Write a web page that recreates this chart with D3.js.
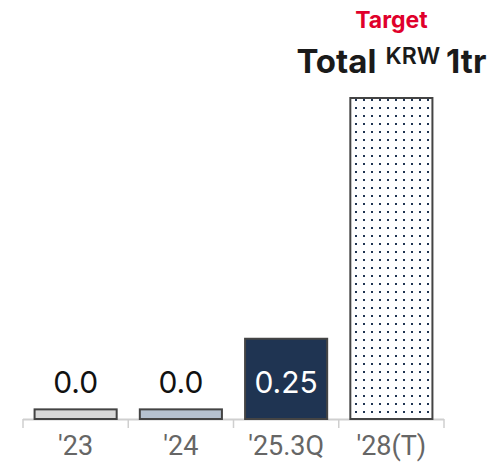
<!DOCTYPE html>
<html lang="en">
<head>
<meta charset="UTF-8">
<title>Target Total KRW 1tr</title>
<script src="https://d3js.org/d3.v7.min.js"></script>
<style>
  body { margin: 0; background: #fff; }
  svg text { font-family: Inter, 'Noto Sans', sans-serif; }
</style>
</head>
<body>
<script>
// data
const categories = ["'23", "'24", "'25.3Q", "'28(T)"];
const values = [0.03, 0.03, 0.25, 1.0];
const labels = ["0.0", "0.0", "0.25", ""];
const fills = ["#d9d9d9", "#b5c1cf", "#1f3452", "url(#dots)"];

const W = 492, H = 462;
const svg = d3.select("body").append("svg")
    .attr("width", W)
    .attr("height", H);

// dotted pattern for target bar
const pat = svg.append("defs").append("pattern")
    .attr("id", "dots")
    .attr("patternUnits", "userSpaceOnUse")
    .attr("width", 8)
    .attr("height", 8);
pat.append("rect").attr("width", 8).attr("height", 8).attr("fill", "#fff");
pat.append("rect").attr("x", 3).attr("y", 3).attr("width", 2).attr("height", 2).attr("fill", "#1f3452");

const x = d3.scaleBand()
    .domain(categories)
    .range([23, 444])
    .paddingInner(0.22)
    .paddingOuter(0.11);

const y = d3.scaleLinear()
    .domain([0, 1])
    .range([419, 98]);

// axis line + tick marks at band boundaries
const edges = d3.range(categories.length + 1).map(i => 23 + i * (421 / categories.length));
svg.append("line")
    .attr("x1", 23).attr("x2", 444)
    .attr("y1", 419.5).attr("y2", 419.5)
    .attr("stroke", "#cfcfcf").attr("stroke-width", 2);
svg.selectAll(".tick-mark")
    .data(edges)
    .enter().append("line")
    .attr("x1", d => d).attr("x2", d => d)
    .attr("y1", 419).attr("y2", 428)
    .attr("stroke", "#cfcfcf").attr("stroke-width", 1.5);

// bars
svg.selectAll(".bar")
    .data(values)
    .enter().append("rect")
    .attr("x", (d, i) => x(categories[i]))
    .attr("y", d => y(d))
    .attr("width", x.bandwidth())
    .attr("height", d => y(0) - y(d))
    .attr("fill", (d, i) => fills[i])
    .attr("stroke", "#444")
    .attr("stroke-width", 2);

// value labels
svg.selectAll(".val")
    .data(values)
    .enter().append("text")
    .attr("x", (d, i) => x(categories[i]) + x.bandwidth() / 2)
    .attr("y", 393)
    .attr("text-anchor", "middle")
    .style("font-size", "30px")
    .style("fill", (d, i) => i === 2 ? "#fff" : "#111")
    .text((d, i) => labels[i]);

// category labels
svg.selectAll(".cat")
    .data(categories)
    .enter().append("text")
    .attr("x", d => x(d) + x.bandwidth() / 2)
    .attr("y", 455)
    .attr("text-anchor", "middle")
    .style("font-family", "Roboto, sans-serif")
    .style("font-size", "27px")
    .style("fill", "#666")
    .text(d => d);

// title over target bar
const cx = x(categories[3]) + x.bandwidth() / 2;
svg.append("text")
    .attr("x", cx)
    .attr("y", 28)
    .attr("text-anchor", "middle")
    .style("font-size", "23px")
    .style("font-weight", "700")
    .style("fill", "#e0002b")
    .text("Target");

const t = svg.append("text")
    .attr("x", cx)
    .attr("y", 73)
    .attr("text-anchor", "middle")
    .style("font-weight", "700")
    .style("fill", "#1a1a1a");
t.append("tspan").style("font-size", "33px").text("Total");
t.append("tspan").style("font-size", "23px").style("font-weight", "600").attr("dx", 9).attr("dy", -9).text("KRW");
t.append("tspan").style("font-size", "33px").attr("dx", 6).attr("dy", 9).text("1tr");
</script>
</body>
</html>
